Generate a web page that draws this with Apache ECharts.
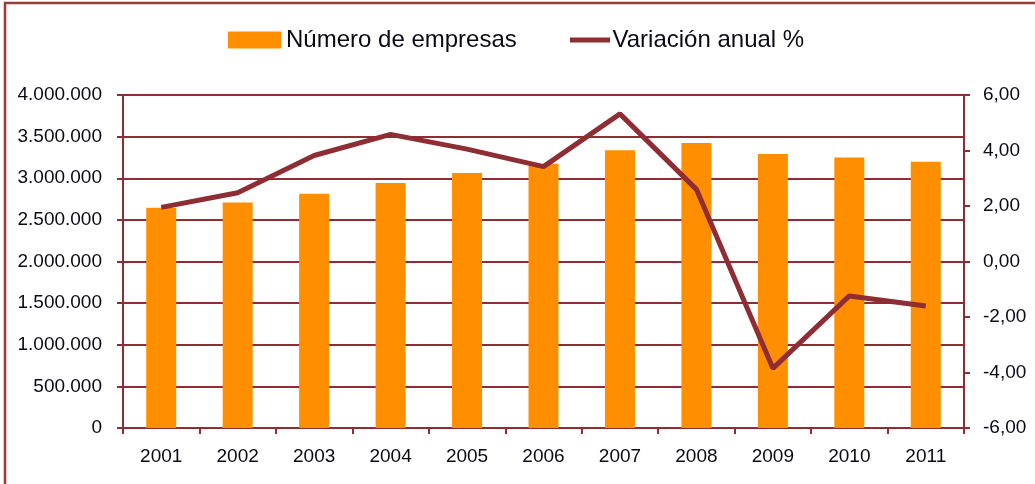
<!DOCTYPE html>
<html>
<head>
<meta charset="utf-8">
<script src="https://cdn.jsdelivr.net/npm/echarts@6/dist/echarts.min.js"></script>
<style>
  html, body { margin: 0; padding: 0; background: #fff; }
  #chart { width: 1035px; height: 484px; }
</style>
</head>
<body>
<div id="chart"></div>
<script>
  // años
  var years = ['2001', '2002', '2003', '2004', '2005', '2006', '2007', '2008', '2009', '2010', '2011'];
  // Número de empresas
  var empresas = [2645000, 2710000, 2813000, 2942000, 3064000, 3174000, 3336000, 3422000, 3291000, 3250000, 3199000];
  // Variación anual %
  var variacion = [1.95, 2.48, 3.82, 4.58, 4.05, 3.42, 5.32, 2.60, -3.85, -1.24, -1.60];

  var granate = '#8e2d33';
  var naranja = '#ff8f00';
  var fuente = '"Liberation Sans", Arial, sans-serif';
  var texto = '#0a0a14';

  function miles(v) {
    return String(v).replace(/\B(?=(\d{3})+(?!\d))/g, '.');
  }

  var chart = echarts.init(document.getElementById('chart'));

  var option = {
    animation: false,
    grid: { left: 123, right: 71, top: 95, height: 333 },
    graphic: [{
      type: 'polyline',
      shape: { points: [[5, 484], [5, 3], [1035, 3]] },
      style: { stroke: '#9a3b3b', lineWidth: 2.5, fill: null }
    }],
    legend: [{
      data: [{ name: 'Número de empresas', icon: 'rect' }],
      left: 228, top: 28, padding: 0,
      itemWidth: 53, itemHeight: 17,
      textStyle: { fontFamily: fuente, fontSize: 24, color: texto }
    }, {
      data: [{ name: 'Variación anual %', icon: 'path://M0,0 L40,0 L40,5 L0,5 Z' }],
      left: 570, top: 28, padding: 0,
      itemWidth: 41, itemHeight: 5,
      textStyle: { fontFamily: fuente, fontSize: 24, color: texto, padding: [0, 0, 0, -3] }
    }],
    xAxis: [{
      type: 'category',
      data: years,
      axisLine: { lineStyle: { color: granate, width: 2 } },
      axisTick: { show: true, length: 6, lineStyle: { color: granate, width: 2 } },
      axisLabel: { margin: 19, fontFamily: fuente, fontSize: 19, color: texto },
      splitLine: { show: false }
    }, {
      type: 'category',
      data: years,
      position: 'bottom',
      axisLine: { show: false },
      axisTick: { show: true, alignWithLabel: true, length: 6, lineStyle: { color: granate, width: 2 } },
      axisLabel: { show: false },
      splitLine: { show: false }
    }],
    yAxis: [{
      type: 'value',
      min: 0, max: 4000000, interval: 500000,
      axisLine: { show: true, lineStyle: { color: granate, width: 2 } },
      axisTick: { show: true, length: 6, lineStyle: { color: granate, width: 2 } },
      axisLabel: { margin: 21, fontFamily: fuente, fontSize: 19, color: texto, formatter: miles },
      splitLine: { show: true, lineStyle: { color: granate, width: 2 } }
    }, {
      type: 'value',
      position: 'right',
      min: -6, max: 6, interval: 2,
      axisLine: { show: true, lineStyle: { color: granate, width: 2 } },
      axisTick: { show: true, length: 6, lineStyle: { color: granate, width: 2 } },
      axisLabel: {
        margin: 19, fontFamily: fuente, fontSize: 19, color: texto,
        formatter: function (v) { return v.toFixed(2).replace('.', ','); }
      },
      splitLine: { show: false }
    }],
    series: [{
      name: 'Número de empresas',
      type: 'bar',
      data: empresas,
      barWidth: 30,
      itemStyle: { color: naranja }
    }, {
      name: 'Variación anual %',
      type: 'line',
      yAxisIndex: 1,
      data: variacion,
      symbol: 'none',
      lineStyle: { color: granate, width: 5 },
      itemStyle: { color: granate }
    }]
  };

  chart.setOption(option);
</script>
</body>
</html>
